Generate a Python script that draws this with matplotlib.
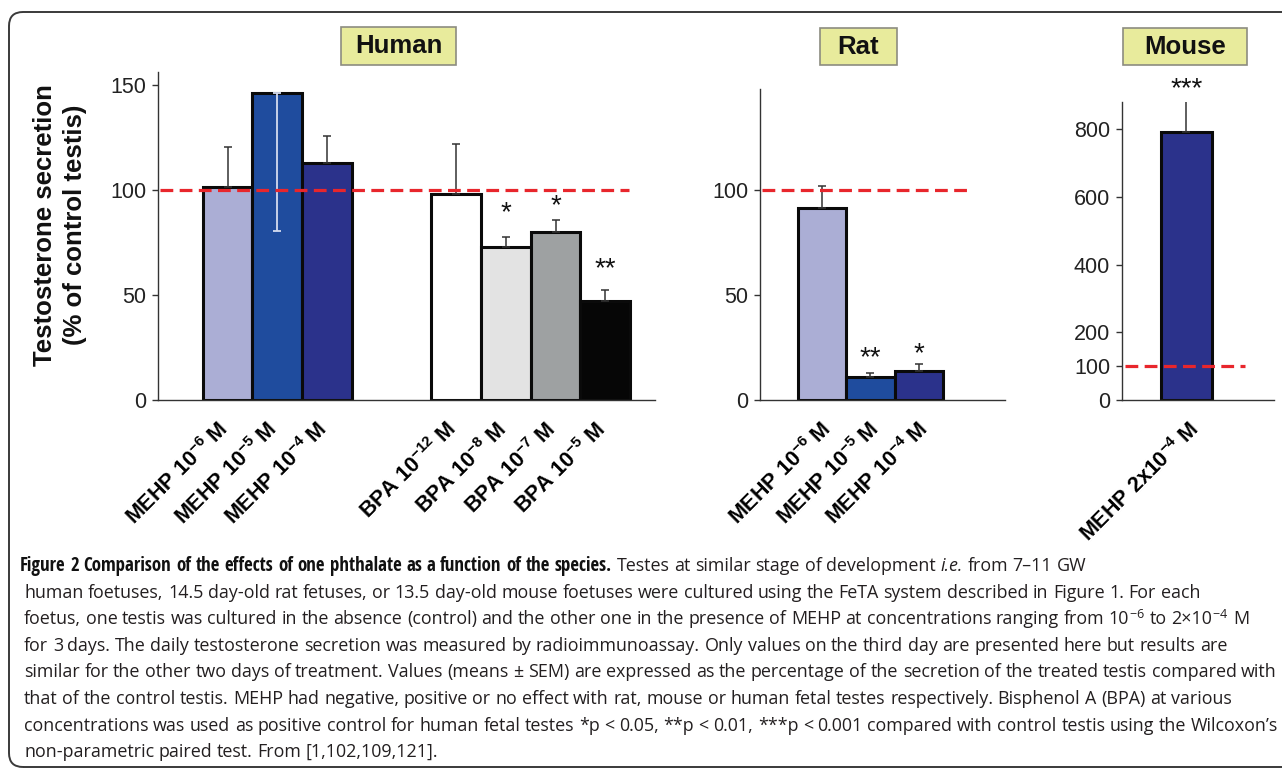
import matplotlib
matplotlib.use('Agg')
import matplotlib.pyplot as plt
from matplotlib import font_manager
from matplotlib.font_manager import FontProperties
from matplotlib.patches import FancyBboxPatch, Rectangle
from matplotlib.transforms import IdentityTransform, ScaledTranslation

W, H = 1282, 768

# ---------------- data ----------------
control_level = 100

human_labels = [r'MEHP 10$^{\mathbf{-6}}$ M', r'MEHP 10$^{\mathbf{-5}}$ M', r'MEHP 10$^{\mathbf{-4}}$ M',
                r'BPA 10$^{\mathbf{-12}}$ M', r'BPA 10$^{\mathbf{-8}}$ M', r'BPA 10$^{\mathbf{-7}}$ M',
                r'BPA 10$^{\mathbf{-5}}$ M']
human_values = [101.4, 146.3, 112.8, 98.0, 73.0, 80.0, 47.3]
human_err_up = [19.2, 0.0, 13.1, 24.0, 4.8, 5.7, 5.2]
human_err_low = [0.0, 65.8, 0.0, 0.0, 0.0, 0.0, 0.0]
human_stars = ['', '', '', '', '*', '*', '**']
human_star_y = [0, 0, 0, 0, 92.4, 95.7, 65.7]

rat_labels = [r'MEHP 10$^{\mathbf{-6}}$ M', r'MEHP 10$^{\mathbf{-5}}$ M', r'MEHP 10$^{\mathbf{-4}}$ M']
rat_values = [91.1, 11.0, 13.7]
rat_err_up = [10.9, 1.7, 3.3]
rat_err_low = [0.0, 0.0, 0.0]
rat_stars = ['', '**', '*']
rat_star_y = [0, 23.3, 25.2]

mouse_labels = [r'MEHP 2x10$^{\mathbf{-4}}$ M']
mouse_values = [790]
mouse_err_up = [101]
mouse_err_low = [0]
mouse_stars = ['***']
mouse_star_y = [938]

human_yticks = [0, 50, 100, 150]
rat_yticks = [0, 50, 100]
mouse_yticks = [0, 100, 200, 400, 600, 800]

human_colors = ['#abaed5', '#1f4c9e', '#2b328b', '#ffffff', '#e3e3e3', '#9ea1a2', '#060606']
rat_colors = ['#abaed5', '#1f4c9e', '#2b328b']
mouse_colors = ['#2b328b']

caption = [
    [('Figure 2 Comparison of the effects of one phthalate as a function of the species.', 'b'),
     (' Testes at similar stage of development ', 'n'), ('i.e.', 'i'), (' from 7\u201311 GW', 'n')],
    [('human foetuses, 14.5 day-old rat fetuses, or 13.5 day-old mouse foetuses were cultured using the FeTA '
      'system described in Figure 1. For each', 'n')],
    [('foetus, one testis was cultured in the absence (control) and the other one in the presence of MEHP at '
      'concentrations ranging from 10', 'n'), ('$^{-6}$', 'n'), (' to 2\u00d710', 'n'), ('$^{-4}$', 'n'), (' M', 'n')],
    [('for 3 days. The daily testosterone secretion was measured by radioimmunoassay. Only values on the third '
      'day are presented here but results are', 'n')],
    [('similar for the other two days of treatment. Values (means \u00b1 SEM) are expressed as the percentage of '
      'the secretion of the treated testis compared with', 'n')],
    [('that of the control testis. MEHP had negative, positive or no effect with rat, mouse or human fetal testes '
      'respectively. Bisphenol A (BPA) at various', 'n')],
    [('concentrations was used as positive control for human fetal testes *p < 0.05, **p < 0.01, ***p < 0.001 '
      'compared with control testis using the Wilcoxon\u2019s', 'n')],
    [('non-parametric paired test. From [1,102,109,121].', 'n')],
]

# ---------------- fonts ----------------
ttf = font_manager.fontManager.ttflist
names = {f.name for f in ttf}
body_font = 'Open Sans' if 'Open Sans' in names else 'DejaVu Sans'


def weight_num(w):
    if isinstance(w, int):
        return w
    return {'bold': 700, 'semibold': 600, 'demibold': 600, 'heavy': 800, 'black': 900}.get(str(w), 400)


# a narrow bold face for the caption heading, if one is installed
narrow = [f for f in ttf
          if ('Narrow' in f.name or 'Condensed' in f.name or
              f.stretch in ('condensed', 'semi-condensed', 'extra-condensed'))
          and 600 <= weight_num(f.weight) <= 800 and f.style == 'normal']
pref = ['Open Sans', 'Liberation Sans', 'Roboto', 'DejaVu Sans']
narrow.sort(key=lambda f: next((i for i, p in enumerate(pref) if f.name.startswith(p)), 9))
if narrow:
    head_prop = dict(fontproperties=FontProperties(fname=narrow[0].fname))
else:
    head_prop = dict(family=['Roboto', 'DejaVu Sans'], fontweight='bold')

plt.rcParams['font.family'] = ['Liberation Sans', 'DejaVu Sans']
plt.rcParams['mathtext.fontset'] = 'custom'
plt.rcParams['mathtext.bf'] = 'Liberation Sans:bold'
plt.rcParams['mathtext.rm'] = body_font

fig = plt.figure(figsize=(W / 100, H / 100), dpi=100)
fig.patch.set_facecolor('white')
renderer = fig.canvas.get_renderer()

# outer rounded frame
fig.add_artist(FancyBboxPatch((9, 1), 1320, H - 13, boxstyle='round,pad=0,rounding_size=14',
                              transform=IdentityTransform(), fill=False, ec='#3a3a3a', lw=1.4))


def panel(px, pos, values, err_up, err_low, colors, labels, ylim, yticks, xlim, span, dx,
          stars, star_y):
    l, t, r, b = px
    ax = fig.add_axes([l / W, 1 - b / H, (r - l) / W, (b - t) / H])
    ax.bar(pos, values, width=1.0, color=colors, edgecolor='#0a0a0a', linewidth=2.2, zorder=2)
    for x, v, eu, el in zip(pos, values, err_up, err_low):
        if eu > 0:
            ax.errorbar(x, v, yerr=[[0], [eu]], fmt='none', ecolor='#333333', elinewidth=1.1,
                        capsize=2.8, capthick=1.1, zorder=3)
        if el > 0:
            ax.errorbar(x, v, yerr=[[el], [0]], fmt='none', ecolor='#d4dbef', elinewidth=1.3,
                        capsize=2.8, capthick=1.3, zorder=3)
    ax.hlines(control_level, span[0], span[1], colors='#e8262c', linestyles=(0, (4, 2)),
              lw=2.3, zorder=4)
    for x, s, sy in zip(pos, stars, star_y):
        if s:
            ax.annotate(s, (x, sy), xytext=(0, -5), textcoords='offset points', ha='center',
                        va='center', fontsize=20, color='#111111', annotation_clip=False)
    ax.set_xlim(*xlim)
    ax.set_ylim(*ylim)
    ax.set_yticks(yticks)
    for side in ['top', 'right']:
        ax.spines[side].set_visible(False)
    for side in ['left', 'bottom']:
        ax.spines[side].set_color('#333333')
        ax.spines[side].set_linewidth(1.0)
    ax.tick_params(axis='y', length=4.5, width=1, color='#333333', pad=4, labelsize=15.5,
                   labelcolor='#222222')
    ax.tick_params(axis='x', length=0, pad=19)
    ax.set_xticks(pos)
    ax.set_xticklabels(labels, rotation=45, ha='right', va='center', rotation_mode='anchor',
                       fontsize=15.5, fontweight='bold')
    off = ScaledTranslation(dx / 100, 0, fig.dpi_scale_trans)
    for lab in ax.get_xticklabels():
        lab.set_transform(lab.get_transform() + off)
    return ax


panel((158, 72, 655, 400), [1.4, 2.4, 3.4, 6, 7, 8, 9], human_values, human_err_up, human_err_low,
      human_colors, human_labels, (0, 156.2), human_yticks, (0, 10), (0.04, 9.48), -3,
      human_stars, human_star_y)
panel((760, 89, 1005, 400), [1.3, 2.3, 3.3], rat_values, rat_err_up, rat_err_low,
      rat_colors, rat_labels, (0, 147.9), rat_yticks, (0, 5.1), (0.04, 4.35), 6,
      rat_stars, rat_star_y)
panel((1122, 102, 1274, 400), [1.26], mouse_values, mouse_err_up, mouse_err_low,
      mouse_colors, mouse_labels, (0, 880), mouse_yticks, (0, 2.98), (0.06, 2.41), 10,
      mouse_stars, mouse_star_y)

# species boxes
for name, (x0, y0, x1, y1) in [('Human', (341, 27, 456, 65)), ('Rat', (820, 28, 897, 65)),
                               ('Mouse', (1123, 28, 1247, 65))]:
    fig.add_artist(Rectangle((x0, H - y1), x1 - x0, y1 - y0, transform=IdentityTransform(),
                             fc='#e8eb9c', ec='#8c8c80', lw=1.2))
    fig.text((x0 + x1) / 2 / W, 1 - (y0 + y1) / 2 / H, name, ha='center', va='center',
             fontsize=18.5, fontweight='bold', color='#111111')

fig.text(60 / W, 1 - 225 / H, 'Testosterone secretion\n(% of control testis)', rotation=90,
         ha='center', va='center', fontsize=18.5, fontweight='bold', linespacing=1.3,
         multialignment='center', color='#111111')

# ---------------- caption ----------------
def width_of(s, **kw):
    t = fig.text(0, 0, s, **kw)
    w = t.get_window_extent(renderer).width
    t.remove()
    return w


x_left = 24
ref_line = ''.join(s for s, k in caption[4])
fs_body = 12 * (1277 - x_left) / width_of(ref_line, family=body_font, fontsize=12)
head_text = caption[0][0][0]
fs_head = 12 * (614 - 20) / width_of(head_text, fontsize=12, **head_prop)
fs_head = min(fs_head, fs_body * 1.1)

styles = {
    'n': dict(family=[body_font, 'DejaVu Sans'], fontsize=fs_body, color='#231f20'),
    'i': dict(family=[body_font, 'DejaVu Sans'], fontsize=fs_body, style='italic', color='#231f20'),
    'b': dict(fontsize=fs_head, color='#111111', **head_prop),
}
space_w = {k: width_of('n n', **v) - width_of('nn', **v) for k, v in styles.items()}

for i, runs in enumerate(caption):
    y = 571 + 26.6 * i
    x = 20 if i == 0 else x_left
    for s, key in runs:
        for j, part in enumerate(s.split(' ')):
            if j > 0:
                x += space_w[key]
            if part:
                t = fig.text(x / W, 1 - y / H, part, ha='left', va='baseline', **styles[key])
                x += t.get_window_extent(renderer).width

fig.savefig('out.png', dpi=100, facecolor='white')
